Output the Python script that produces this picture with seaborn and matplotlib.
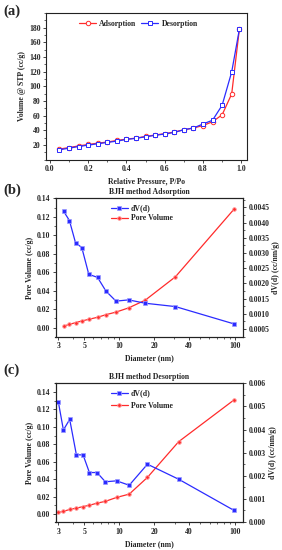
import numpy as np
import pandas as pd
import matplotlib
matplotlib.use("Agg")
import matplotlib.pyplot as plt
from matplotlib.ticker import MultipleLocator, NullFormatter, FixedLocator, FormatStrFormatter
import seaborn as sns

# (a) isotherm
rel_pressure = [0.05, 0.10, 0.15, 0.20, 0.25, 0.30, 0.35, 0.40, 0.45, 0.50,
                0.55, 0.60, 0.65, 0.70, 0.75, 0.80, 0.85, 0.90, 0.95, 0.99]
adsorption = [14.2, 16.3, 18.5, 20.5, 22.3, 23.8, 26.0, 27.8, 29.2, 31.5,
              33.4, 35.3, 37.5, 40.6, 43.0, 46.3, 51.6, 61.0, 89.5, 177.5]
desorption = [13.2, 15.5, 17.7, 19.6, 21.5, 23.3, 25.1, 27.4, 28.9, 31.0,
              33.0, 34.8, 37.0, 40.6, 43.0, 48.5, 53.6, 74.0, 119.5, 177.5]

# (b) BJH adsorption
diam_ads = [3.33, 3.73, 4.21, 4.77, 5.48, 6.52, 7.7, 9.4, 12.1, 16.8, 30.6, 98.0]
dvd_ads = [0.00437, 0.00407, 0.00334, 0.00318, 0.00230, 0.00220, 0.00175,
           0.00142, 0.00146, 0.00135, 0.00124, 0.00067]
pv_ads = [0.0018, 0.0036, 0.0055, 0.0073, 0.0091, 0.0113, 0.0141, 0.0169,
          0.0215, 0.0298, 0.0551, 0.1283]

# (c) BJH desorption
diam_des = [3.0, 3.31, 3.75, 4.28, 4.89, 5.54, 6.44, 7.6, 9.5, 12.2, 17.5, 32.5, 97.5]
dvd_des = [0.00517, 0.00398, 0.00444, 0.00291, 0.00290, 0.00214, 0.00214,
           0.00174, 0.00178, 0.00159, 0.00250, 0.00185, 0.00050]
pv_des = [0.0018, 0.0030, 0.0052, 0.0067, 0.0085, 0.0100, 0.0124, 0.0145,
          0.0190, 0.0228, 0.0420, 0.0830, 0.1310]

diam_ticks = [3, 5, 10, 20, 40, 100]

RED = "#ff2b2b"
BLUE = "#2b2bff"
FS = 5.6

sns.set_style("ticks")
plt.rcParams["font.family"] = ["Liberation Serif", "DejaVu Serif"]
plt.rcParams["font.weight"] = "bold"
plt.rcParams["axes.labelweight"] = "bold"
plt.rcParams["axes.titleweight"] = "bold"
plt.rcParams["axes.linewidth"] = 0.8
plt.rcParams["axes.edgecolor"] = "#222222"
plt.rcParams["xtick.direction"] = "out"
plt.rcParams["ytick.direction"] = "out"
plt.rcParams["xtick.major.size"] = 2.5
plt.rcParams["ytick.major.size"] = 2.5
plt.rcParams["xtick.minor.size"] = 1.3
plt.rcParams["ytick.minor.size"] = 1.3
plt.rcParams["xtick.major.width"] = 0.6
plt.rcParams["ytick.major.width"] = 0.6
plt.rcParams["xtick.minor.width"] = 0.5
plt.rcParams["ytick.minor.width"] = 0.5
plt.rcParams["xtick.major.pad"] = 1.5
plt.rcParams["ytick.major.pad"] = 1.5
plt.rcParams["xtick.labelsize"] = FS
plt.rcParams["ytick.labelsize"] = FS

fig = plt.figure(figsize=(2.82, 5.5), dpi=100)
W, H = 282.0, 550.0


def rect(l, t, r, b):
    return [l / W, 1 - b / H, (r - l) / W, (b - t) / H]


# ---------------- (a) ----------------
ax_a = fig.add_axes(rect(46, 13, 247, 159.5))
df_a = pd.DataFrame({"p": rel_pressure, "ads": adsorption, "des": desorption})
sns.lineplot(data=df_a, x="p", y="ads", ax=ax_a, color=RED, lw=0.9, marker="o",
             markersize=3.2, mfc="white", mec=RED, mew=0.7, label="Adsorption")
sns.lineplot(data=df_a, x="p", y="des", ax=ax_a, color=BLUE, lw=0.9, marker="s",
             markersize=3.0, mfc="white", mec=BLUE, mew=0.7, label="Desorption")
ax_a.set_xlim(-0.02, 1.03)
ax_a.set_ylim(0, 200)
ax_a.set_xticks(np.arange(0, 1.01, 0.2))
ax_a.xaxis.set_major_formatter(FormatStrFormatter("%.1f"))
ax_a.xaxis.set_minor_locator(MultipleLocator(0.1))
ax_a.set_yticks(np.arange(20, 181, 20))
ax_a.yaxis.set_minor_locator(MultipleLocator(10))
ax_a.set_xlabel("Relative Pressure, P/Po", fontsize=FS, labelpad=3)
ax_a.set_ylabel("Volume @ STP (cc/g)", fontsize=FS, labelpad=2)
ax_a.legend(loc="upper center", bbox_to_anchor=(0.46, 1.0), ncol=2, frameon=False,
            fontsize=FS, handlelength=2.2, columnspacing=0.6, handletextpad=0.4)
fig.text(3 / W, 1 - 11 / H, "(a)", fontsize=10.5, fontweight="bold", va="center")


# ---------------- (b) / (c) ----------------
def bjh_panel(r, diam, dvd, pv, title, ylim_l, ylim_r, rticks, rfmt, leg_y, lspace, label, label_y):
    ax = fig.add_axes(rect(*r))
    ax2 = ax.twinx()
    df = pd.DataFrame({"d": diam, "dvd": dvd, "pv": pv})
    sns.lineplot(data=df, x="d", y="pv", ax=ax, color=RED, lw=0.9, marker="o",
                 markersize=2.6, mfc=RED, mec="#ff9a9a", mew=0.6, label="Pore Volume", legend=False)
    sns.lineplot(data=df, x="d", y="dvd", ax=ax2, color=BLUE, lw=0.9, marker="s",
                 markersize=2.4, mfc=BLUE, mec="#9a9aff", mew=0.5, label="dV(d)", legend=False)
    for a in (ax, ax2):
        a.set_xscale("log")
        a.set_xlim(2.83, 117)
    ax.xaxis.set_major_locator(FixedLocator(diam_ticks))
    ax.set_xticklabels([str(t) for t in diam_ticks])
    ax.xaxis.set_minor_formatter(NullFormatter())
    ax.set_ylim(*ylim_l)
    ax.set_yticks(np.arange(0, 0.141, 0.02))
    ax.yaxis.set_major_formatter(FormatStrFormatter("%.2f"))
    ax.yaxis.set_minor_locator(MultipleLocator(0.01))
    ax2.set_ylim(*ylim_r)
    ax2.set_yticks(rticks)
    ax2.yaxis.set_major_formatter(FormatStrFormatter(rfmt))
    ax2.yaxis.set_minor_locator(MultipleLocator((rticks[1] - rticks[0]) / 2))
    ax.set_xlabel("Diameter (nm)", fontsize=FS, labelpad=3)
    ax.set_ylabel("Pore Volume (cc/g)", fontsize=FS, labelpad=2)
    ax2.set_ylabel("dV(d) (cc/nm/g)", fontsize=FS, labelpad=2)
    ax.set_title(title, fontsize=FS, pad=3)
    h1, l1 = ax2.get_legend_handles_labels()
    h2, l2 = ax.get_legend_handles_labels()
    ax2.legend(h1 + h2, l1 + l2, loc="upper left", bbox_to_anchor=(0.27, leg_y),
               frameon=False, fontsize=FS, handlelength=2.2, labelspacing=lspace,
               handletextpad=0.4, borderaxespad=0.2)
    fig.text(3 / W, 1 - label_y / H, label, fontsize=10.5, fontweight="bold", va="center")
    return ax


bjh_panel((55.5, 198.3, 243, 336.7), diam_ads, dvd_ads, pv_ads, "BJH method Adsorption",
          (-0.0097, 0.14), (0.00025, 0.0048), np.arange(0.0005, 0.00451, 0.0005), "%.4f",
          0.99, 0.25, "(b)", 190)

bjh_panel((55.5, 383.3, 243.3, 522), diam_des, dvd_des, pv_des, "BJH method Desorption",
          (-0.0092, 0.150), (0.0, 0.006), np.arange(0.0, 0.00601, 0.001), "%.3f",
          0.99, 0.6, "(c)", 370)

fig.savefig("out.png", dpi=100)
